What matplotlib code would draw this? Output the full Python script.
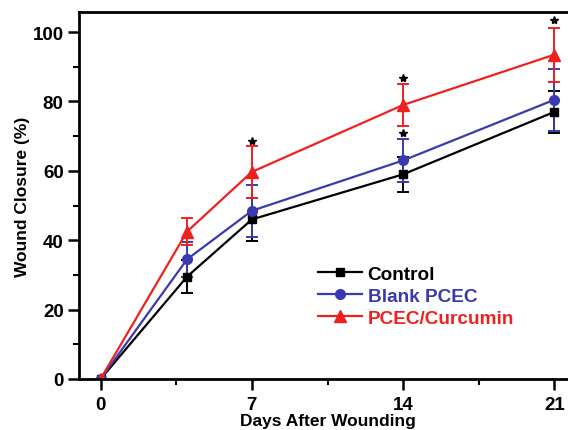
import matplotlib
matplotlib.use("Agg")
import matplotlib.pyplot as plt
from matplotlib.ticker import MultipleLocator
from matplotlib.lines import Line2D

days = [0, 4, 7, 14, 21]
control = [0, 29.5, 46.0, 59.0, 77.0]
control_err = [0, 4.7, 6.2, 5.0, 6.0]
blank = [0, 34.5, 48.5, 63.0, 80.5]
blank_err = [0, 5.0, 7.5, 6.3, 9.0]
curc = [0, 42.5, 59.7, 79.0, 93.5]
curc_err = [0, 4.0, 7.5, 6.0, 7.8]
star_x = [7, 14, 14, 21]
star_y = [68.5, 86.8, 71.0, 103.6]
xticks = [0, 7, 14, 21]
yticks = [0, 20, 40, 60, 80, 100]

plt.rcParams['font.family'] = ['Liberation Sans', 'DejaVu Sans']
plt.rcParams['font.weight'] = 'bold'

fig = plt.figure(figsize=(5.68, 4.31), dpi=100)
ax = fig.add_axes([79/568, 51/431, 497/568, 367/431])

series = [
    ("Control", control, control_err, "#000000", "s", 6),
    ("Blank PCEC", blank, blank_err, "#3a3ab0", "o", 7),
    ("PCEC/Curcumin", curc, curc_err, "#f02020", "^", 8),
]
handles = []
for name, y, e, c, m, ms in series:
    ax.errorbar(days, y, yerr=e, color=c, marker=m, ms=ms, lw=1.6,
                capsize=4, elinewidth=1.4, capthick=1.4)
    handles.append(Line2D([], [], color=c, marker=m, ms=ms, lw=1.6, label=name))

ax.plot(star_x, star_y, linestyle='none', marker='*', color='black', ms=6)

ax.set_xlim(-1, 22)
ax.set_ylim(0, 105.8)
ax.set_xticks(xticks)
ax.set_yticks(yticks)
ax.xaxis.set_minor_locator(MultipleLocator(3.5))
ax.yaxis.set_minor_locator(MultipleLocator(10))
ax.tick_params(which='major', direction='out', length=8, width=1.8, labelsize=13.5)
ax.tick_params(axis='x', which='major', pad=4)
ax.tick_params(axis='y', which='major', pad=3)
ax.tick_params(which='minor', direction='out', length=4, width=1.5)
ax.tick_params(axis='x', which='both', top=False)
ax.tick_params(axis='y', which='both', right=False)
for s in ['left', 'bottom', 'top']:
    ax.spines[s].set_linewidth(2)
ax.spines['right'].set_visible(False)

ax.set_ylabel("Wound Closure (%)", fontsize=12.5, fontweight='bold', labelpad=2)
ax.set_xlabel("Days After Wounding", fontsize=12.5, fontweight='bold', labelpad=0.5)

leg = ax.legend(handles=handles, loc='upper left', bbox_to_anchor=(0.481, 0.31),
                frameon=False, fontsize=13.7, handlelength=2.3, handletextpad=0.3,
                labelspacing=0.25, borderpad=0, borderaxespad=0)
for t, (_, _, _, c, _, _) in zip(leg.get_texts(), series):
    t.set_color(c)

fig.savefig("out.png", dpi=100)
